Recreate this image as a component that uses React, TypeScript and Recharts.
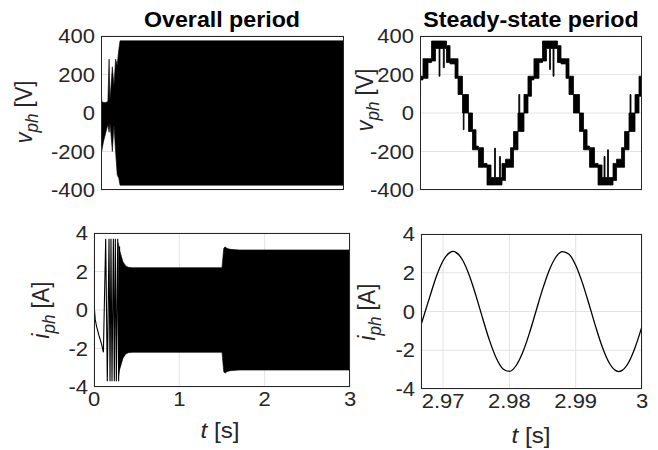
import React from 'react';
import { Area, CartesianGrid, ComposedChart, Line, XAxis, YAxis } from 'recharts';

const W = 658;
const H = 450;
const YW = 60;
const XH = 40;
const FONT = '"Liberation Sans", Arial, Helvetica, sans-serif';
const INK = '#262626';
const GRID = '#e3e3e3';
const STRETCH = 1.1;

// phase voltage, whole run: envelope of the switching waveform [s, V]
const vAllTime = [0, 0.008, 0.03, 0.06, 0.085, 0.1, 0.11, 0.125, 0.14, 0.16, 0.18, 0.2, 0.22, 0.235, 3];
const vAllHigh = [280, 60, 55, 55, 60, 280, 60, 150, 240, 140, 280, 250, 330, 375, 375];
const vAllLow = [-230, -200, -150, -100, -60, -100, -50, -120, -200, -60, -200, -320, -340, -375, -375];

// phase voltage, last two cycles: band covered by the multilevel switching [s, V]
const vSsTime = [
    2.96667, 2.96675, 2.96712, 2.96787, 2.9684, 2.969, 2.96953, 2.96967, 2.97017, 2.97032, 2.97065, 2.97118,
    2.97193, 2.97238, 2.97305, 2.97317, 2.97328,
    2.97395, 2.97455, 2.97508, 2.97545, 2.9762, 2.97673, 2.97733, 2.97786, 2.978, 2.9786, 2.97875, 2.97898,
    2.97951, 2.98026, 2.98071, 2.98138, 2.9815, 2.98165,
    2.98228, 2.98288, 2.98341, 2.98378, 2.98453, 2.98506, 2.98566, 2.98611, 2.98626, 2.98664, 2.98679,
    2.98731, 2.98784, 2.98859, 2.98904, 2.98971,
    2.99062, 2.99122, 2.99175, 2.99212, 2.99287, 2.9934, 2.994, 2.9943, 2.99445, 2.99482, 2.99497, 2.99565,
    2.99618, 2.99693, 2.99738, 2.99805, 2.9982, 2.99835,
    2.99895, 2.99955, 3
];
const vSsHigh = [
    191, 191, 282, 282, 374, 374, 374, 374, 374, 374, 350, 282, 282, 191, 96, 96, 96,
    0, -87, -172, -180, -262, -270, -335, -183, -335, -226, -335, -262, -240, -180, -96, 0, 96, 0,
    96, 191, 191, 282, 282, 374, 374, 374, 374, 374, 374, 350, 282, 282, 191, 96,
    0, -87, -172, -180, -262, -270, -335, -226, -335, -191, -335, -262, -240, -180, -96, 0, 96, 0,
    96, 191, 191
];
const vSsLow = [
    87, 172, 180, 262, 270, 335, 191, 335, 235, 335, 262, 255, 180, 96, 0, -87, 0,
    -96, -191, -191, -282, -282, -374, -374, -374, -374, -374, -374, -350, -282, -282, -191, -96, -96, -96,
    0, 87, 172, 180, 262, 270, 335, 226, 335, 191, 335, 262, 255, 180, 96, 0,
    -96, -191, -191, -282, -282, -374, -374, -374, -374, -374, -374, -350, -282, -282, -191, -96, -96, -96,
    0, 87, 87
];

// phase current, start-up transient [s, A]
const iStartTime = [0, 0.004, 0.015, 0.03, 0.06, 0.09, 0.11, 0.137, 0.156, 0.176, 0.188, 0.199, 0.211, 0.227, 0.238, 0.25, 0.262, 0.278, 0.289, 0.3];
const iStartValue = [0.3, 0.1, -0.5, -0.85, -1.35, -1.8, -2.2, 3.7, -3.7, 3.7, -3.7, 3.7, -3.7, 3.7, -3.7, 3.7, -3.7, 3.7, -3.7, 3.3];

// phase current, whole run: envelope [s, A]
const iAllTime = [0.285, 0.3, 0.32, 0.34, 0.37, 0.4, 0.45, 1.5, 1.52, 1.535, 1.56, 1.6, 1.7, 3];
const iAllHigh = [3.5, 3.1, 2.8, 2.5, 2.3, 2.22, 2.2, 2.2, 3.2, 3.28, 3.2, 3.15, 3.12, 3.12];
const iAllLow = [-3.5, -3.1, -2.8, -2.5, -2.3, -2.22, -2.2, -2.2, -3.2, -3.28, -3.2, -3.15, -3.12, -3.12];

// phase current, last two cycles [s, A]
const iSsTime = [
    2.96667, 2.968, 2.969, 2.97, 2.971, 2.9715, 2.972, 2.973, 2.974, 2.975, 2.976, 2.977, 2.978, 2.979, 2.98,
    2.981, 2.982, 2.983, 2.984, 2.985, 2.986, 2.987, 2.988, 2.989, 2.99, 2.991, 2.992, 2.993, 2.994, 2.995,
    2.996, 2.9965, 2.997, 2.998, 2.999, 3
];
const iSsValue = [
    -0.7, 0.77, 1.82, 2.62, 3.04, 3.1, 3.04, 2.62, 1.82, 0.77, -0.39, -1.49, -2.39, -2.95, -3.09,
    -2.8, -2.12, -1.14, 0, 1.14, 2.12, 2.8, 3.09, 2.95, 2.39, 1.49, 0.39, -0.77, -1.82, -2.62,
    -3.04, -3.1, -3.04, -2.62, -1.82, -0.77
];

const vTicks = [-400, -200, 0, 200, 400];
const iTicks = [-4, -2, 0, 2, 4];
const tAllTicks = [0, 1, 2, 3];
const tSsTicks = [2.97, 2.98, 2.99, 3];
const tSsStart = 2.96667;

type Box = { left: number; top: number; width: number; height: number };

const boxVAll: Box = { left: 101, top: 36, width: 243, height: 154 };
const boxVSs: Box = { left: 420, top: 36, width: 222, height: 154 };
const boxIAll: Box = { left: 94, top: 233, width: 256, height: 154 };
const boxISs: Box = { left: 421, top: 234, width: 221, height: 155 };

const vAllRows = vAllTime.map((t, k) => ({ t, band: [vAllLow[k], vAllHigh[k]] }));
const vSsRows = vSsTime.map((t, k) => ({ t, band: [vSsLow[k], vSsHigh[k]] }));
const iStartRows = iStartTime.map((t, k) => ({ t, i: iStartValue[k] }));
const iAllRows = iAllTime.map((t, k) => ({ t, band: [iAllLow[k], iAllHigh[k]] }));
const iSsRows = iSsTime.map((t, k) => ({ t, i: iSsValue[k] }));

function YTick({ x, y, payload }: any) {
    return (
        <text
            transform={`translate(${x},${y}) scale(${STRETCH},1)`}
            textAnchor="end"
            dy="0.35em"
            fontSize={20}
            fontFamily={FONT}
            fill={INK}
        >
            {payload.value}
        </text>
    );
}

function XTick({ x, y, payload }: any) {
    return (
        <text
            transform={`translate(${x},${y}) scale(${STRETCH},1)`}
            textAnchor="middle"
            dy="0.72em"
            fontSize={20}
            fontFamily={FONT}
            fill={INK}
        >
            {payload.value}
        </text>
    );
}

function margins(b: Box) {
    return {
        top: b.top,
        left: b.left - YW,
        right: W - b.left - b.width,
        bottom: H - b.top - b.height - XH
    };
}

function axes(xDomain: number[], xTicks: number[], showX: boolean, yTicks: number[]) {
    return [
        <CartesianGrid key="grid" stroke={GRID} vertical={showX} />,
        <XAxis
            key="x"
            dataKey="t"
            type="number"
            domain={xDomain}
            ticks={xTicks}
            allowDataOverflow
            height={XH}
            axisLine={false}
            tickLine={false}
            tickSize={0}
            tickMargin={5}
            tick={showX ? (p: any) => <XTick {...p} /> : false}
        />,
        <YAxis
            key="y"
            type="number"
            domain={[yTicks[0], yTicks[yTicks.length - 1]]}
            ticks={yTicks}
            allowDataOverflow
            width={YW}
            axisLine={false}
            tickLine={false}
            tickSize={0}
            tickMargin={6}
            tick={(p: any) => <YTick {...p} />}
        />
    ];
}

function YLabel({ x, y, sym, unit }: { x: number; y: number; sym: string; unit: string }) {
    return (
        <text
            transform={`translate(${x},${y}) rotate(-90) scale(1,${STRETCH})`}
            textAnchor="middle"
            fontSize={22}
            fontFamily={FONT}
            fill={INK}
        >
            <tspan fontStyle="italic">{sym}</tspan>
            <tspan fontStyle="italic" fontSize={17} dy={5}>ph</tspan>
            <tspan dy={-5}>{` [${unit}]`}</tspan>
        </text>
    );
}

function TLabel({ x, y }: { x: number; y: number }) {
    return (
        <text
            transform={`translate(${x},${y}) scale(${STRETCH},1)`}
            textAnchor="middle"
            fontSize={22}
            fontFamily={FONT}
            fill={INK}
        >
            <tspan fontStyle="italic">t</tspan>
            <tspan>{' [s]'}</tspan>
        </text>
    );
}

const layer: React.CSSProperties = { position: 'absolute', left: 0, top: 0 };

export default function App() {
    return (
        <div style={{ position: 'absolute', left: 0, top: 0, width: W, height: H, background: '#fff' }}>
            <div style={layer}>
                <ComposedChart width={W} height={H} data={vAllRows} margin={margins(boxVAll)}>
                    {axes([0, 3], tAllTicks, false, vTicks)}
                    <Area dataKey="band" type="linear" fill="#000" fillOpacity={1} stroke="#000" strokeWidth={0.6} isAnimationActive={false} />
                </ComposedChart>
            </div>
            <div style={layer}>
                <ComposedChart width={W} height={H} data={vSsRows} margin={margins(boxVSs)}>
                    {axes([tSsStart, 3], tSsTicks, false, vTicks)}
                    <Area dataKey="band" type="stepAfter" fill="#000" fillOpacity={1} stroke="#000" strokeWidth={0.8} isAnimationActive={false} />
                </ComposedChart>
            </div>
            <div style={layer}>
                <ComposedChart width={W} height={H} data={iAllRows} margin={margins(boxIAll)}>
                    {axes([0, 3], tAllTicks, true, iTicks)}
                    <Area dataKey="band" type="linear" fill="#000" fillOpacity={1} stroke="#000" strokeWidth={0.6} isAnimationActive={false} />
                    <Line data={iStartRows} dataKey="i" type="linear" stroke="#000" strokeWidth={1.1} dot={false} isAnimationActive={false} />
                </ComposedChart>
            </div>
            <div style={layer}>
                <ComposedChart width={W} height={H} data={iSsRows} margin={margins(boxISs)}>
                    {axes([tSsStart, 3], tSsTicks, true, iTicks)}
                    <Line dataKey="i" type="monotone" stroke="#000" strokeWidth={1.3} dot={false} isAnimationActive={false} />
                </ComposedChart>
            </div>
            <svg width={W} height={H} style={layer}>
                {[boxVAll, boxVSs, boxIAll, boxISs].map((b, k) => (
                    <rect key={k} x={b.left + 0.5} y={b.top + 0.5} width={b.width - 1} height={b.height - 1} fill="none" stroke={INK} strokeWidth={1} />
                ))}
                <text transform={`translate(222,27) scale(1.08,1)`} textAnchor="middle" fontSize={21.5} fontWeight="bold" fontFamily={FONT} fill="#000">
                    Overall period
                </text>
                <text transform={`translate(531,27) scale(1.08,1)`} textAnchor="middle" fontSize={21.5} fontWeight="bold" fontFamily={FONT} fill="#000">
                    Steady-state period
                </text>
                <YLabel x={32} y={112} sym="v" unit="V" />
                <YLabel x={373} y={100} sym="v" unit="V" />
                <YLabel x={49} y={310} sym="i" unit="A" />
                <YLabel x={375} y={312} sym="i" unit="A" />
                <TLabel x={220} y={438} />
                <TLabel x={531} y={443} />
            </svg>
        </div>
    );
}
